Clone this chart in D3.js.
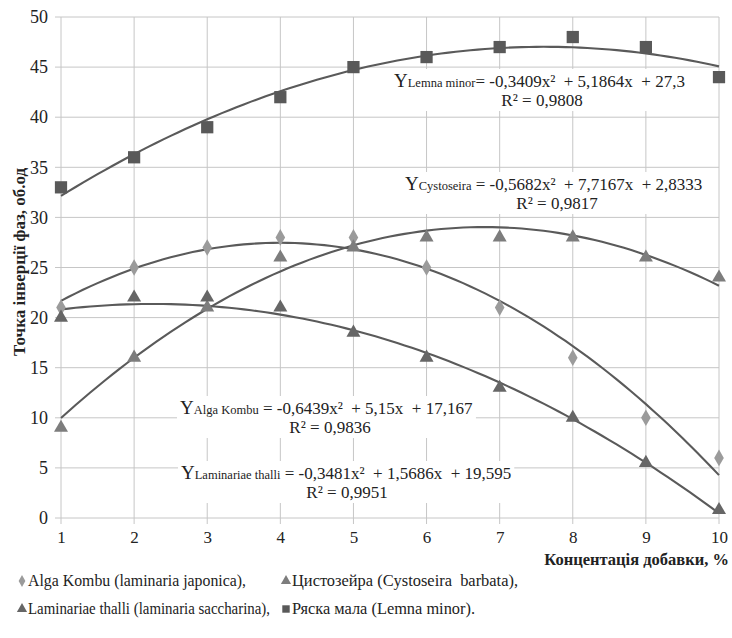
<!DOCTYPE html>
<html>
<head>
<meta charset="utf-8">
<script src="https://cdn.jsdelivr.net/npm/d3@7"></script>
<style>
  body { margin: 0; background: #fff; }
  svg { display: block; }
</style>
</head>
<body>
<svg width="732" height="638" font-family="Liberation Serif"></svg>
<script>
// concentration of additive, %
var concentration = [1, 2, 3, 4, 5, 6, 7, 8, 9, 10];

var algaKombu   = [21, 25, 27, 28, 28, 25, 21, 16, 10, 6];
var cystoseira  = [9, 16, 21, 26, 27, 28, 28, 28, 26, 24];
var laminariae  = [20, 22, 22, 21, 18.5, 16, 13, 10, 5.5, 0.8];
var lemnaMinor  = [33, 36, 39, 42, 45, 46, 47, 48, 47, 44];

// polynomial trend coefficients [a, b, c] for a*x^2 + b*x + c (as printed on chart)
var coefAlga   = [-0.6439, 5.15, 17.167];
var coefCyst   = [-0.5682, 7.7167, 2.8333];
var coefLam    = [-0.3481, 1.5686, 19.595];
var coefLemna  = [-0.3409, 5.1864, 27.3];

var yTicks = [0, 5, 10, 15, 20, 25, 30, 35, 40, 45, 50];

var FONT = "Liberation Serif";

var margin = {top: 17, right: 13, bottom: 120, left: 61},
    width = 732 - margin.left - margin.right,
    height = 638 - margin.top - margin.bottom;

var svg = d3.select("svg");
var g = svg.append("g").attr("transform", "translate(" + margin.left + "," + margin.top + ")");

var x = d3.scaleLinear().domain([1, 10]).range([0, width]);
var y = d3.scaleLinear().domain([0, 50]).range([height, 0]);

var gridColor = "#c6c6c6";

// grid
g.append("g").selectAll("line").data(yTicks).enter().append("line")
    .attr("x1", -6).attr("x2", width)
    .attr("y1", function (d) { return y(d); })
    .attr("y2", function (d) { return y(d); })
    .attr("stroke", gridColor).attr("stroke-width", 1);

g.append("g").selectAll("line").data(concentration).enter().append("line")
    .attr("x1", function (d) { return x(d); })
    .attr("x2", function (d) { return x(d); })
    .attr("y1", 0).attr("y2", height + 6)
    .attr("stroke", gridColor).attr("stroke-width", 1);

// axes labels (ticks drawn by the grid above)
var xAxis = g.append("g").attr("transform", "translate(0," + height + ")")
    .call(d3.axisBottom(x).tickValues(concentration).tickSize(0).tickPadding(13).tickFormat(d3.format("d")));
var yAxis = g.append("g")
    .call(d3.axisLeft(y).tickValues(yTicks).tickSize(0).tickPadding(13));
[xAxis, yAxis].forEach(function (a) {
    a.select(".domain").remove();
    a.attr("font-family", FONT).attr("font-size", 18);
    a.selectAll("text").attr("fill", "#222");
});
xAxis.attr("font-size", 17);

// trend lines
var trendX = d3.range(1, 10.0001, 0.1);
var line = d3.line()
    .x(function (d) { return x(d[0]); })
    .y(function (d) { return y(d[1]); });

function trend(coef) {
    return trendX.map(function (v) { return [v, coef[0] * v * v + coef[1] * v + coef[2]]; });
}

// labels with white boxes (drawn before the curves so lines stay on top)
var labelLayer = g.append("g");
var lineLayer = g.append("g");
var markLayer = g.append("g");

[coefLemna, coefCyst, coefAlga, coefLam].forEach(function (c) {
    lineLayer.append("path")
        .attr("d", line(trend(c)))
        .attr("fill", "none")
        .attr("stroke", "#5a5a5a")
        .attr("stroke-width", 2.1);
});

// markers
var diamond = d3.symbol().type(d3.symbolDiamond).size(80);
var triangle = d3.symbol().type(d3.symbolTriangle).size(85);
var square = d3.symbol().type(d3.symbolSquare).size(150);

function drawSeries(vals, sym, color) {
    markLayer.append("g").selectAll("path").data(vals).enter().append("path")
        .attr("d", sym)
        .attr("transform", function (d, i) {
            return "translate(" + x(concentration[i]) + "," + y(d) + ")";
        })
        .attr("fill", color);
}
drawSeries(algaKombu, diamond, "#9b9b9b");
drawSeries(cystoseira, triangle, "#7d7d7d");
drawSeries(laminariae, triangle, "#666666");
drawSeries(lemnaMinor, square, "#595959");

// equation labels
var labels = [
    {sub: "Lemna minor", eq: "= -0,3409x²  + 5,1864x  + 27,3", r2: "R² = 0,9808", lx: 394, ly: 87, rx: 542},
    {sub: "Cystoseira", eq: " = -0,5682x²  + 7,7167x  + 2,8333", r2: "R² = 0,9817", lx: 405, ly: 190, rx: 557},
    {sub: "Alga Kombu", eq: " = -0,6439x²  + 5,15x  + 17,167", r2: "R² = 0,9836", lx: 180, ly: 414, rx: 330},
    {sub: "Laminariae thalli", eq: " = -0,3481x²  + 1,5686x  + 19,595", r2: "R² = 0,9951", lx: 181, ly: 479, rx: 347}
];

labels.forEach(function (l) {
    var grp = labelLayer.append("g");
    var bg = grp.append("rect").attr("fill", "#fff");
    var t1 = grp.append("text")
        .attr("x", l.lx - margin.left).attr("y", l.ly - margin.top)
        .style("white-space", "pre")
        .attr("fill", "#222").attr("font-size", 17);
    t1.append("tspan").attr("font-size", 19).text("Y");
    t1.append("tspan").attr("font-size", 12.5).text(l.sub);
    t1.append("tspan").text(l.eq);
    var t2 = grp.append("text")
        .attr("x", l.rx - margin.left).attr("y", l.ly - margin.top + 19)
        .attr("text-anchor", "middle")
        .attr("fill", "#222").attr("font-size", 17)
        .text(l.r2);
    var b1 = t1.node().getBBox(), b2 = t2.node().getBBox();
    var x0 = Math.min(b1.x, b2.x) - 3, x1 = Math.max(b1.x + b1.width, b2.x + b2.width) + 3;
    var y0 = b1.y - 1, y1 = b2.y + b2.height + 1;
    bg.attr("x", x0).attr("y", y0).attr("width", x1 - x0).attr("height", y1 - y0);
});

// axis titles
svg.append("text")
    .attr("transform", "translate(25,262) rotate(-90)")
    .attr("text-anchor", "middle")
    .attr("font-weight", "bold").attr("font-size", 17).attr("fill", "#222")
    .text("Точка інверції фаз, об.од");

svg.append("text")
    .attr("x", 729).attr("y", 565)
    .attr("text-anchor", "end")
    .attr("font-weight", "bold").attr("font-size", 16.5).attr("fill", "#222")
    .text("Концентація добавки, %");

// legend
var legendItems = [
    {name: "Alga Kombu (laminaria japonica),", len: 218, sym: d3.symbol().type(d3.symbolDiamond).size(40), color: "#9b9b9b", lx: 22, ly: 581},
    {name: "Цистозейра (Cystoseira  barbata),", len: 226, sym: d3.symbol().type(d3.symbolTriangle).size(45), color: "#7d7d7d", lx: 286, ly: 581},
    {name: "Laminariae thalli (laminaria saccharina),", len: 242, sym: d3.symbol().type(d3.symbolTriangle).size(45), color: "#666666", lx: 22, ly: 609},
    {name: "Ряска мала (Lemna minor).", len: 183, sym: d3.symbol().type(d3.symbolSquare).size(55), color: "#595959", lx: 286, ly: 609}
];

var legend = svg.append("g").selectAll("g").data(legendItems).enter().append("g")
    .attr("transform", function (d) { return "translate(" + d.lx + "," + d.ly + ")"; });
legend.append("path")
    .attr("d", function (d) { return d.sym(); })
    .attr("fill", function (d) { return d.color; });
legend.append("text")
    .attr("x", 6).attr("y", 5)
    .attr("font-size", 16).attr("fill", "#222")
    .style("white-space", "pre")
    .attr("textLength", function (d) { return d.len; })
    .attr("lengthAdjust", "spacingAndGlyphs")
    .text(function (d) { return d.name; });
</script>
</body>
</html>
